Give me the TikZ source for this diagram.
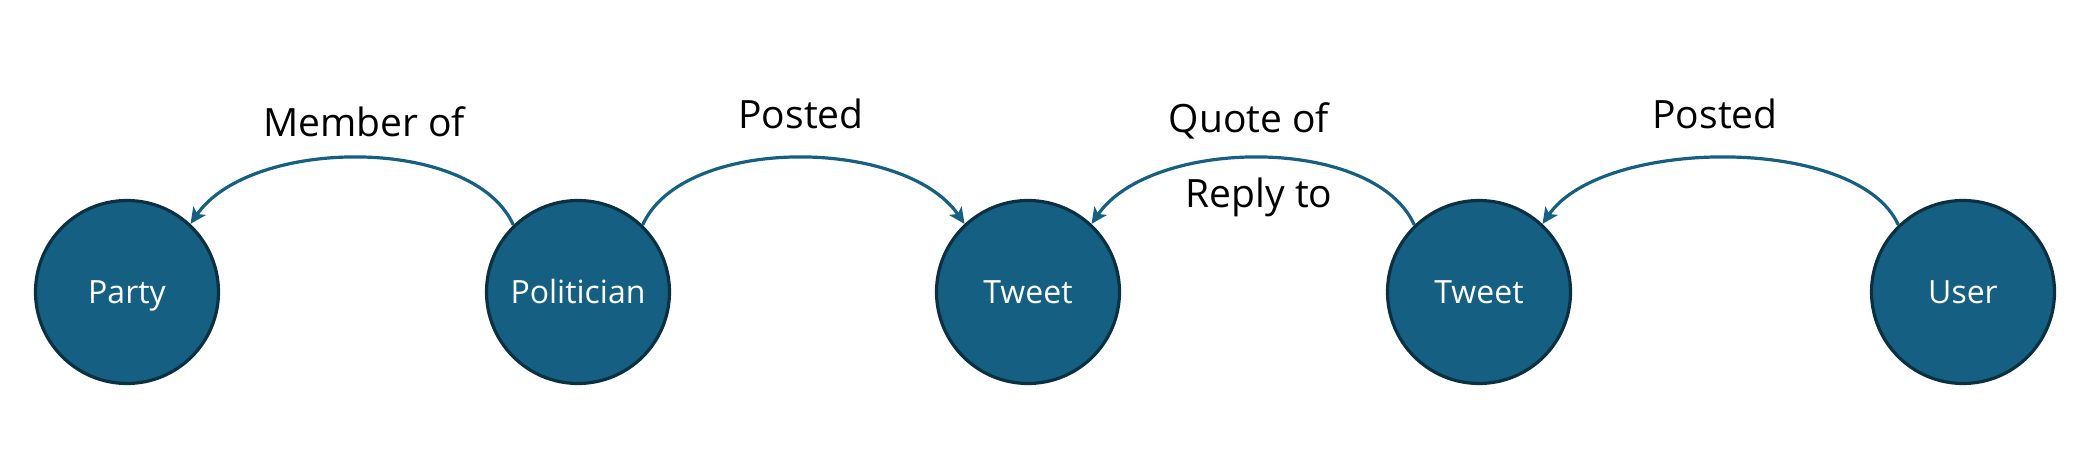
\documentclass[tikz,border=0pt]{standalone}
\usepackage{fontspec}
\setmainfont{Open Sans}
\usetikzlibrary{arrows.meta}
\definecolor{nodefill}{HTML}{156082}
\definecolor{nodeline}{HTML}{0A3041}
\newcommand\capbox[1]{\smash{#1}\vphantom{H}}
\begin{document}
\begin{tikzpicture}[x=1pt,y=1pt,
  entity/.style={circle,draw=nodeline,fill=nodefill,line width=3.2pt,minimum size=183pt,inner sep=0pt,text=white,font=\fontsize{32}{37}\selectfont},
  rel/.style={draw=nodefill,line width=3.2pt,-{Stealth[length=16pt,width=15pt,inset=4pt]}},
  lbl/.style={anchor=base,text=black,inner sep=0pt,font=\fontsize{39}{44}\selectfont}]
\useasboundingbox (0,0) rectangle (2088,465);
\node[entity] (party) at (127,173) {\capbox{Party}};
\node[entity] (pol) at (578,173) {\capbox{Politician}};
\node[entity] (tw1) at (1028,173) {\capbox{Tweet}};
\node[entity] (tw2) at (1479,173) {\capbox{Tweet}};
\node[entity] (user) at (1963,173) {\capbox{User}};
% arrows
\draw[rel] (pol.134) .. controls ([shift={(-40,90)}]pol.134) and ([shift={(60,87)}]party.47) .. (party.47);
\draw[rel] (pol.46) .. controls ([shift={(40,90)}]pol.46) and ([shift={(-60,87)}]tw1.133) .. (tw1.133);
\draw[rel] (tw2.134) .. controls ([shift={(-40,90)}]tw2.134) and ([shift={(60,87)}]tw1.47) .. (tw1.47);
\draw[rel] (user.134) .. controls ([shift={(-40,90)}]user.134) and ([shift={(60,87)}]tw2.47) .. (tw2.47);
% labels
\node[lbl] (l1) at (364,328) {Member of};
\node[lbl] (l2) at (801,336) {Posted};
\node[lbl] (l3) at (1249,332) {Quote of};
\node[lbl] (l4) at (1259,257) {Reply to};
\node[lbl] (l5) at (1715,336) {Posted};
\end{tikzpicture}
\end{document}
